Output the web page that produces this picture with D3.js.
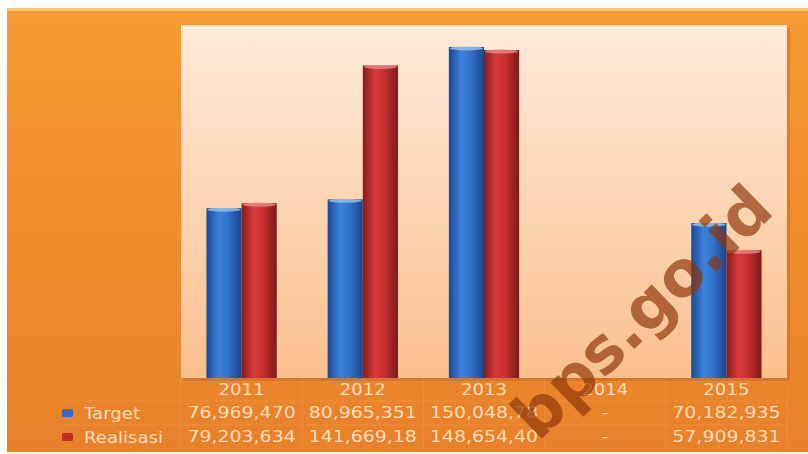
<!DOCTYPE html>
<html><head><meta charset="utf-8">
<script src="https://cdn.jsdelivr.net/npm/d3@7"></script>
<style>html,body{margin:0;padding:0;background:#fff;}svg{display:block;}</style>
</head><body>
<svg id="c" width="808" height="454"></svg>
<script>
const categories = ["2011","2012","2013","2014","2015"];
const seriesNames = ["Target","Realisasi"];
const target    = [76969470, 80965351, 150048785, null, 70182935];
const realisasi = [79203634, 141669185, 148654400, null, 57909831];
const seriesValues = [target, realisasi];

const svg = d3.select("#c");
const defs = svg.append("defs");

function lin(id, x2, y2, stops){
  const g = defs.append("linearGradient").attr("id",id).attr("x1",0).attr("y1",0).attr("x2",x2).attr("y2",y2);
  stops.forEach(s=>g.append("stop").attr("offset",s[0]).attr("stop-color",s[1]));
}
lin("bgOuter",0,1,[[0,"#f89a32"],[1,"#e8812a"]]);
lin("bgPlot",0,1,[[0,"#fdeadb"],[0.5,"#fcd6b4"],[1,"#fbc08e"]]);
lin("barB",1,0,[[0,"#1c4890"],[0.35,"#3b82dc"],[0.6,"#3274cc"],[1,"#1b458a"]]);
lin("barR",1,0,[[0,"#861c1c"],[0.35,"#d83a3a"],[0.6,"#c83030"],[1,"#7e1a1a"]]);
const fills = ["url(#barB)","url(#barR)"];
const caps = ["#8cc0f5","#f08080"];
const keyCols = ["#2e6cc4","#c02c2c"];

// outer background
svg.append("rect").attr("x",7).attr("y",8).attr("width",801).attr("height",444).attr("fill","url(#bgOuter)");
svg.append("rect").attr("x",7).attr("y",8).attr("width",801).attr("height",3).attr("fill","#fcd27c").attr("opacity",0.8);

const plot = {left:181, right:787, top:25, bottom:378};
svg.append("rect").attr("x",plot.left+3).attr("y",plot.top+3).attr("width",plot.right-plot.left).attr("height",plot.bottom-plot.top).attr("fill","#c8681e").attr("opacity",0.5);
svg.append("rect").attr("x",plot.left).attr("y",plot.top).attr("width",plot.right-plot.left).attr("height",plot.bottom-plot.top).attr("fill","url(#bgPlot)");

const x = d3.scaleBand().domain(categories).range([plot.left, plot.right]).paddingInner(0.42).paddingOuter(0.21);
const xs = d3.scaleBand().domain(seriesNames).range([0, x.bandwidth()]);
const y = d3.scaleLinear().domain([0,160000000]).range([plot.bottom, plot.top]);

seriesValues.forEach((vals, si)=>{
  const g = svg.append("g");
  const data = categories.map((c,i)=>({c, v: vals[i]})).filter(d=>d.v!=null);
  g.selectAll("rect.bar").data(data).enter().append("rect")
    .attr("x", d=>x(d.c)+xs(seriesNames[si]))
    .attr("y", d=>y(d.v))
    .attr("width", xs.bandwidth())
    .attr("height", d=>y(0)-y(d.v))
    .attr("fill", fills[si]);
  g.selectAll("ellipse").data(data).enter().append("ellipse")
    .attr("cx", d=>x(d.c)+xs(seriesNames[si])+xs.bandwidth()/2)
    .attr("cy", d=>y(d.v)+1.5)
    .attr("rx", xs.bandwidth()/2-1).attr("ry",2)
    .attr("fill", caps[si]).attr("opacity",0.85);
});

const txtCol = "#fcdcbc";
const font = "'DejaVu Sans', sans-serif";
const rowY = [413, 437];
const step = x.step();
const tg = svg.append("g").attr("stroke","#fbb57a").attr("stroke-opacity",0.22).attr("stroke-width",1);
d3.range(categories.length+1).forEach(i=>{
  const xx = plot.left + i*step;
  tg.append("line").attr("x1",xx).attr("x2",xx).attr("y1",plot.bottom).attr("y2",449);
});
tg.append("line").attr("x1",60).attr("x2",plot.right).attr("y1",401).attr("y2",401);
tg.append("line").attr("x1",60).attr("x2",plot.right).attr("y1",425).attr("y2",425);

function stretchedText(parent, str, cx, cy, anchor, sx){
  parent.append("text")
    .attr("transform", `translate(${cx},${cy}) scale(${sx},1)`)
    .attr("text-anchor", anchor).attr("dominant-baseline","central")
    .attr("font-family", font).attr("font-size", 15.5)
    .attr("fill", txtCol).text(str);
}
const lg = svg.append("g");
categories.forEach(c=>{
  stretchedText(lg, c, x(c)+x.bandwidth()/2, 389, "middle", 1.17);
});
const fmt = d3.format(",");
seriesValues.forEach((vals, si)=>{
  lg.append("rect").attr("x",62).attr("y",rowY[si]-4).attr("width",11).attr("height",8).attr("fill",keyCols[si]).attr("rx",1.5);
  stretchedText(lg, seriesNames[si], 84, rowY[si], "start", 1.17);
  vals.forEach((v,i)=>{
    const s = v==null ? "-" : fmt(v).slice(0,10);
    stretchedText(lg, s, x(categories[i])+x.bandwidth()/2, rowY[si], "middle", 1.22);
  });
});

// watermark
svg.append("text")
  .attr("transform","translate(642,312) rotate(-44)")
  .attr("text-anchor","middle").attr("dominant-baseline","central")
  .attr("font-family","'DejaVu Sans', sans-serif").attr("font-weight","bold")
  .attr("font-size",63).attr("fill","#8e3608").attr("opacity",0.68)
  .text("bps.go.id");
</script>
</body></html>
